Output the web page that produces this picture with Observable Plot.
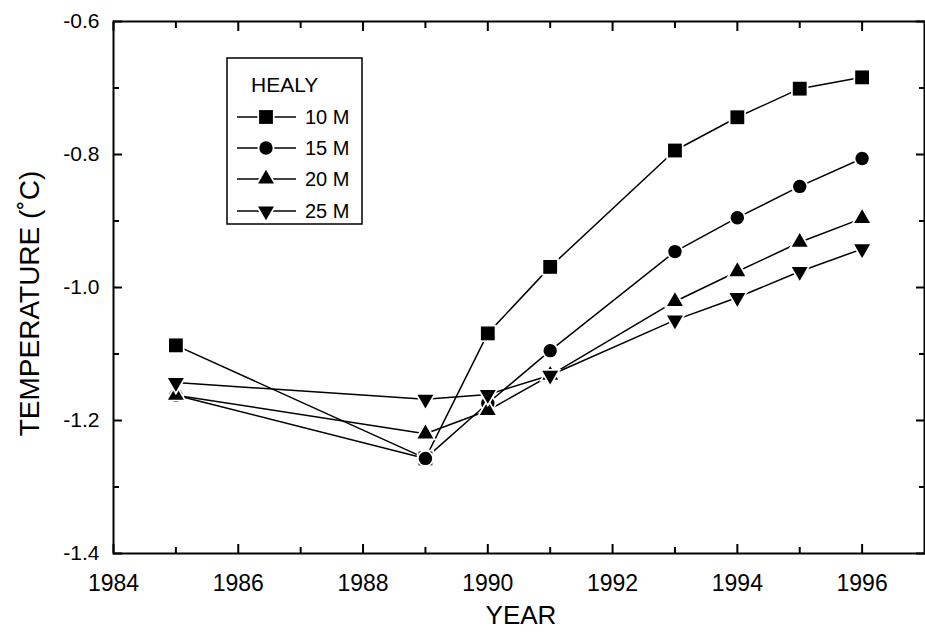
<!DOCTYPE html>
<html>
<head>
<meta charset="utf-8">
<script src="https://cdn.jsdelivr.net/npm/d3@7"></script>
<script src="https://cdn.jsdelivr.net/npm/@observablehq/plot@0.6"></script>
<style>
  html, body { margin: 0; padding: 0; background: white; }
  #chart { width: 925px; height: 632px; }
</style>
</head>
<body>
<div id="chart"></div>
<script>
// ---- data ----
const years = [1985, 1989, 1990, 1991, 1993, 1994, 1995, 1996];
const seriesNames = ["10 M", "15 M", "20 M", "25 M"];
const m10 = [-1.087, -1.257, -1.069, -0.969, -0.794, -0.744, -0.701, -0.684];
const m15 = [-1.162, -1.257, -1.174, -1.095, -0.946, -0.895, -0.848, -0.806];
const m20 = [-1.162, -1.220, -1.185, -1.132, -1.021, -0.976, -0.932, -0.896];
const m25 = [-1.143, -1.168, -1.161, -1.132, -1.049, -1.015, -0.976, -0.942];
const xLabelTicks = [1984, 1986, 1988, 1990, 1992, 1994, 1996];
const xMinorTicks = [1985, 1987, 1989, 1991, 1993, 1995];
const yLabelTicks = [-1.4, -1.2, -1.0, -0.8, -0.6];
const yMinorTicks = [-1.3, -1.1, -0.9, -0.7];
const legendTitle = "HEALY";
const xTitle = "YEAR";
const yTitle = "TEMPERATURE (\u02DAC)";

// ---- symbols ----
const sqrt3 = Math.sqrt(3);
const triangleDown = {
  draw(context, size) {
    const y = -Math.sqrt(size / (sqrt3 * 3));
    context.moveTo(0, -y * 2);
    context.lineTo(-sqrt3 * y, y);
    context.lineTo(sqrt3 * y, y);
    context.closePath();
  }
};
const symbols = ["square", "circle", "triangle", triangleDown];
const radii = [7.8, 6.7, 5.9, 5.9];

const valuesBySeries = [m10, m15, m20, m25];
const rows = [];
valuesBySeries.forEach((vals, i) => {
  vals.forEach((v, j) => rows.push({series: seriesNames[i], year: years[j], value: v}));
});

const FONT = "'Liberation Sans', Arial, Helvetica, sans-serif";

const tickAxes = [];
for (const anchor of ["bottom", "top"]) {
  tickAxes.push(Plot.axisX({anchor, ticks: xLabelTicks, tickSize: -9, tickFormat: () => "", label: null, strokeWidth: 2}));
  tickAxes.push(Plot.axisX({anchor, ticks: xMinorTicks, tickSize: -6, tickFormat: () => "", label: null, strokeWidth: 2}));
}
for (const anchor of ["left", "right"]) {
  tickAxes.push(Plot.axisY({anchor, ticks: yLabelTicks, tickSize: -9, tickFormat: () => "", label: null, strokeWidth: 2}));
  tickAxes.push(Plot.axisY({anchor, ticks: yMinorTicks, tickSize: -6, tickFormat: () => "", label: null, strokeWidth: 2}));
}

const dotMarks = seriesNames.map((name, i) =>
  Plot.dot(rows.filter(d => d.series === name), {
    x: "year", y: "value", symbol: symbols[i], r: radii[i],
    fill: "black", stroke: "white", strokeWidth: 3.5, paintOrder: "stroke"
  })
);

const svg = Plot.plot({
  width: 925,
  height: 632,
  marginLeft: 113,
  marginRight: 1,
  marginTop: 21,
  marginBottom: 79,
  style: {fontFamily: FONT, background: "white", color: "black"},
  x: {domain: [1984, 1997]},
  y: {domain: [-1.4, -0.6]},
  marks: [
    Plot.line(rows, {x: "year", y: "value", z: "series", stroke: "black", strokeWidth: 1.5}),
    ...dotMarks,
    Plot.frame({stroke: "black", strokeWidth: 2}),
    ...tickAxes,
    Plot.axisX({anchor: "bottom", ticks: xLabelTicks, tickSize: 0, tickPadding: 21, tickFormat: d => String(d), fontSize: 23, letterSpacing: 0.5, label: null}),
    Plot.axisY({anchor: "left", ticks: yLabelTicks, tickSize: 0, tickPadding: 14, tickFormat: d => d.toFixed(1), fontSize: 21, label: null}),
    Plot.text([xTitle], {frameAnchor: "bottom", text: d => d, dx: 2, dy: 62, textAnchor: "middle", lineAnchor: "middle", fontSize: 26, letterSpacing: 0.5}),
    Plot.text([yTitle], {frameAnchor: "left", text: d => d, dx: -83, dy: 16, textAnchor: "middle", lineAnchor: "middle", rotate: -90, fontSize: 28, letterSpacing: 1.5})
  ]
});

// ---- legend (drawn into the same SVG) ----
const sel = d3.select(svg);
const lg = sel.append("g").attr("font-family", FONT).attr("text-anchor", "start");
lg.append("rect").attr("x", 227).attr("y", 58).attr("width", 135).attr("height", 166)
  .attr("fill", "white").attr("stroke", "black").attr("stroke-width", 1.5);
lg.append("text").attr("x", 251).attr("y", 92).attr("font-size", 21).text(legendTitle);
const rowY = [117, 148, 179, 211];
seriesNames.forEach((name, i) => {
  const y = rowY[i];
  lg.append("line").attr("x1", 237).attr("x2", 296).attr("y1", y).attr("y2", y)
    .attr("stroke", "black").attr("stroke-width", 1.5);
  const sym = typeof symbols[i] === "string"
    ? {square: d3.symbolSquare, circle: d3.symbolCircle, triangle: d3.symbolTriangle}[symbols[i]]
    : symbols[i];
  lg.append("path").attr("transform", `translate(266,${y})`)
    .attr("d", d3.symbol(sym, radii[i] * radii[i] * Math.PI)())
    .attr("fill", "black").attr("stroke", "white").attr("stroke-width", 3.5).attr("paint-order", "stroke");
  lg.append("text").attr("x", 305).attr("y", y + 7).attr("font-size", 20).text(name);
});

document.getElementById("chart").appendChild(svg);
</script>
</body>
</html>
